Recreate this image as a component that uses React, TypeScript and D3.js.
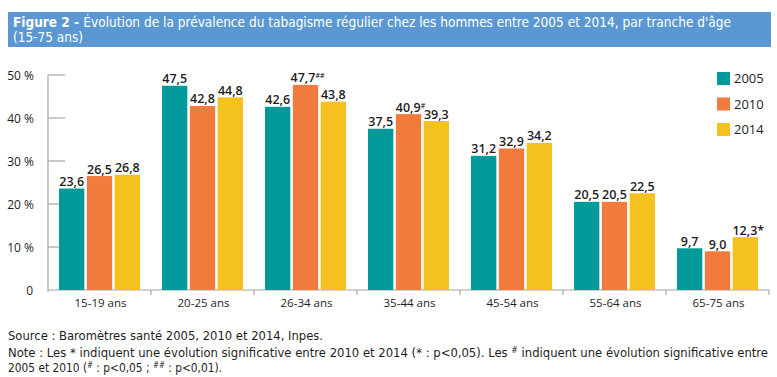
import React from "react";
import * as d3 from "d3";

const categories = ["15-19 ans", "20-25 ans", "26-34 ans", "35-44 ans", "45-54 ans", "55-64 ans", "65-75 ans"];
const seriesNames = ["2005", "2010", "2014"];
const values2005 = [23.6, 47.5, 42.6, 37.5, 31.2, 20.5, 9.7];
const values2010 = [26.5, 42.8, 47.7, 40.9, 32.9, 20.5, 9.0];
const values2014 = [26.8, 44.8, 43.8, 39.3, 34.2, 22.5, 12.3];
const marks2005 = ["", "", "", "", "", "", ""];
const marks2010 = ["", "", "##", "#", "", "", ""];
const marks2014 = ["", "", "", "", "", "", "*"];
const yTicks = [0, 10, 20, 30, 40, 50];
const colors = ["#009a9a", "#f07b3c", "#f5c11e"];

const allValues = [values2005, values2010, values2014];
const allMarks = [marks2005, marks2010, marks2014];

const fmt = (v: number) => v.toFixed(1).replace(".", ",");

export default function App() {
  const W = 777, H = 377;
  const x0 = d3.scaleBand<string>().domain(categories).range([48, 769]).paddingInner(0).paddingOuter(0);
  const x1 = d3.scaleBand<string>().domain(seriesNames).range([11, 92]).paddingInner(0.09).paddingOuter(0);
  const y = d3.scaleLinear().domain([0, 50]).range([290, 75]);
  const axisColor = "#a6a6a6";
  const textColor = "#1e1e1e";
  const font = "'Open Sans', sans-serif";
  const condensed = "'DejaVu Sans Condensed', 'DejaVu Sans', sans-serif";

  return (
    <svg width={W} height={H} style={{ position: "absolute", left: 0, top: 0, display: "block", background: "#fff" }}>
      {/* Title banner */}
      <rect x={8} y={12} width={763} height={35} fill="#5b98d3" />
      <text x={13} y={27} fill="#fff" fontFamily={condensed} fontSize={13.5} textLength={718} lengthAdjust="spacingAndGlyphs">
        <tspan fontWeight="bold">Figure 2 - </tspan>
        <tspan>Évolution de la prévalence du tabagisme régulier chez les hommes entre 2005 et 2014, par tranche d'âge</tspan>
      </text>
      <text x={13} y={41.5} fill="#fff" fontFamily={condensed} fontSize={13.5} textLength={70} lengthAdjust="spacingAndGlyphs">(15-75 ans)</text>

      {/* Y axis */}
      <line x1={48} x2={48} y1={y(50)} y2={y(0) + 2} stroke={axisColor} strokeWidth={1.2} />
      {yTicks.map((t) => (
        <g key={t}>
          {t > 0 && <line x1={48} x2={65} y1={y(t)} y2={y(t)} stroke={axisColor} strokeWidth={1.2} />}
          <text x={t === 0 ? 33 : 34} y={y(t) + 4.5} textAnchor="end" fill={textColor} fontFamily={font} fontSize={12}>
            {t === 0 ? "0" : `${t} %`}
          </text>
        </g>
      ))}

      {/* X axis */}
      <line x1={48} x2={769} y1={y(0)} y2={y(0)} stroke={axisColor} strokeWidth={1.2} />
      {categories.map((c) => (
        <line key={"t" + c} x1={(x0(c) as number) + x0.bandwidth()} x2={(x0(c) as number) + x0.bandwidth()} y1={y(0)} y2={y(0) + 5} stroke={axisColor} strokeWidth={1.2} />
      ))}
      {categories.map((c) => (
        <text key={"l" + c} x={(x0(c) as number) + x0.bandwidth() / 2 + 1} y={307} textAnchor="middle" fill={textColor} fontFamily={font} fontSize={11.5}>
          {c}
        </text>
      ))}

      {/* Bars */}
      {categories.map((c, i) => (
        <g key={"g" + c} transform={`translate(${x0(c)},0)`}>
          {seriesNames.map((s, j) => {
            const v = allValues[j][i];
            const bx = x1(s) as number;
            const bw = x1.bandwidth();
            const mark = allMarks[j][i];
            return (
              <g key={s}>
                <rect x={bx} y={y(v)} width={bw} height={y(0) - y(v)} fill={colors[j]} />
                <text x={bx + bw / 2 + (mark ? (mark === "*" ? 3 : 2) : 0)} y={y(v) - 2.5} textAnchor="middle" fill={textColor} fontFamily={font} fontWeight={600} fontSize={12.5}>
                  {fmt(v)}
                  {mark === "*" && <tspan>*</tspan>}
                  {mark && mark !== "*" && (
                    <tspan fontSize={7} dy={-4}>{mark}</tspan>
                  )}
                </text>
              </g>
            );
          })}
        </g>
      ))}

      {/* Legend */}
      {seriesNames.map((s, j) => (
        <g key={"lg" + s} transform={`translate(717, ${72 + j * 25.5})`}>
          <rect x={0} y={0} width={13} height={13} fill={colors[j]} />
          <text x={17} y={11} fill={textColor} fontFamily={font} fontSize={13}>{s}</text>
        </g>
      ))}

      {/* Footnotes */}
      <text x={8} y={340} fill={textColor} fontFamily={condensed} fontSize={12} textLength={315} lengthAdjust="spacingAndGlyphs">
        Source : Baromètres santé 2005, 2010 et 2014, Inpes.
      </text>
      <text x={8} y={357} fill={textColor} fontFamily={condensed} fontSize={12} textLength={760} lengthAdjust="spacingAndGlyphs">
        Note : Les * indiquent une évolution significative entre 2010 et 2014 (* : p&lt;0,05). Les <tspan fontSize={8} dy={-4}>#</tspan><tspan dy={4}> indiquent une évolution significative entre</tspan>
      </text>
      <text x={8} y={372} fill={textColor} fontFamily={condensed} fontSize={12} textLength={214} lengthAdjust="spacingAndGlyphs">
        2005 et 2010 (<tspan fontSize={8} dy={-4}>#</tspan><tspan dy={4}> : p&lt;0,05 ; </tspan><tspan fontSize={8} dy={-4}>##</tspan><tspan dy={4}> : p&lt;0,01).</tspan>
      </text>
    </svg>
  );
}
